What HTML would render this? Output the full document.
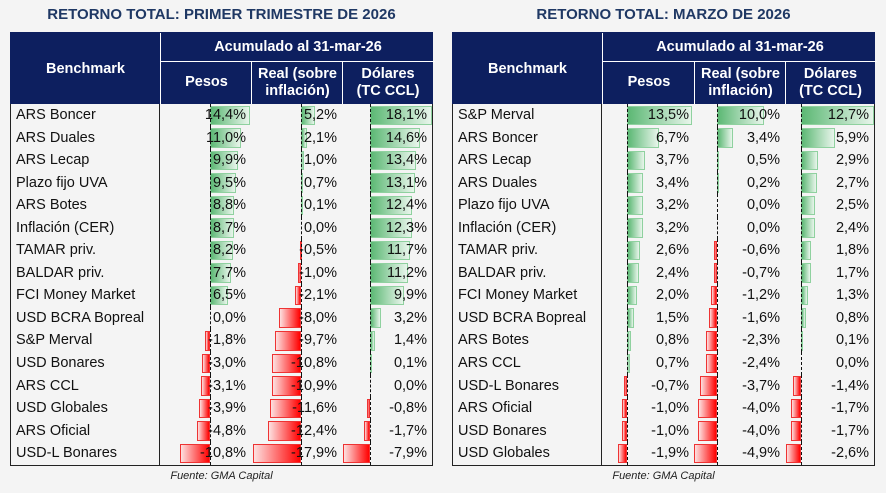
<!DOCTYPE html>
<html><head><meta charset="utf-8"><style>
body{margin:0;width:886px;height:493px;background:#f4f4f4;font-family:"Liberation Sans",sans-serif;position:relative;overflow:hidden}
.title{position:absolute;top:6px;font-weight:bold;font-size:15px;color:#1f3864;text-align:center}
.t{position:absolute;top:32px;width:423px}
.h{position:relative;height:72px;background:#0d1f5f;color:#fff;font-weight:bold;font-size:14.5px;border:1px solid #0d1f5f;box-sizing:border-box}
.h div{position:absolute;text-align:center;display:flex;align-items:center;justify-content:center;line-height:17px}
.b{border-left:1px solid #222;border-right:1px solid #222;border-bottom:1px solid #222;background:#f4f4f4}
.r{display:flex;height:22.56px;font-size:14.5px}
.c{position:relative;box-sizing:border-box;text-align:right;padding-right:5px;line-height:22.56px}
.c0{text-align:left;padding-left:5px;border-right:1px solid #222;color:#111}
.c::after{content:"";position:absolute;top:0;bottom:0;left:var(--a);border-left:1px dashed #111}
.c0::after{display:none}
.c span{position:relative;z-index:1;color:#111}
.c i{position:absolute;top:1.5px;bottom:1.5px;box-sizing:border-box;left:calc(var(--a) + min(var(--v),0) * var(--s) * 1px);width:calc(max(var(--v),calc(-1 * var(--v))) * var(--s) * 1px);background:linear-gradient(to right,#5cb874,#e8f5eb);border:1px solid #8fd19f}
.c i.n{background:linear-gradient(to left,#ff0000,#fde0e0);border:1px solid #e33}
.L .c0{width:149px}.L .c1{width:91px;--a:50px;--s:2.78}.L .c2{width:91px;--a:50px;--s:2.7}.L .c3{width:90px;--a:28px;--s:3.4}
.R .c0{width:149px}.R .c1{width:92px;--a:25px;--s:4.85}.R .c2{width:91px;--a:23px;--s:4.7}.R .c3{width:89px;--a:16px;--s:5.75}
.src{position:absolute;top:470px;font-size:11px;font-style:italic;color:#222;text-align:center}
</style></head><body>
<div class="title" style="left:10px;width:423px">RETORNO TOTAL: PRIMER TRIMESTRE DE 2026</div>
<div class="title" style="left:452px;width:423px">RETORNO TOTAL: MARZO DE 2026</div>

<div class="t L" style="left:10px">
<div class="h">
<div style="left:0;top:0;width:149px;height:72px">Benchmark</div>
<div style="left:149px;top:0;width:274px;height:28px;border-left:1px solid #fff;border-bottom:1px solid #fff">Acumulado al 31-mar-26</div>
<div style="left:149px;top:28px;width:91px;height:43px;border-left:1px solid #fff">Pesos</div>
<div style="left:240px;top:28px;width:91px;height:43px;border-left:1px solid #fff">Real (sobre<br>inflación)</div>
<div style="left:331px;top:28px;width:90px;height:43px;border-left:1px solid #fff">Dólares<br>(TC CCL)</div>
</div>
<div class="b">
<div class="r"><div class="c c0">ARS Boncer</div><div class="c c1" style="--v:14.4"><i></i><span>14,4%</span></div><div class="c c2" style="--v:5.2"><i></i><span>5,2%</span></div><div class="c c3" style="--v:18.1"><i></i><span>18,1%</span></div></div>
<div class="r"><div class="c c0">ARS Duales</div><div class="c c1" style="--v:11"><i></i><span>11,0%</span></div><div class="c c2" style="--v:2.1"><i></i><span>2,1%</span></div><div class="c c3" style="--v:14.6"><i></i><span>14,6%</span></div></div>
<div class="r"><div class="c c0">ARS Lecap</div><div class="c c1" style="--v:9.9"><i></i><span>9,9%</span></div><div class="c c2" style="--v:1"><i></i><span>1,0%</span></div><div class="c c3" style="--v:13.4"><i></i><span>13,4%</span></div></div>
<div class="r"><div class="c c0">Plazo fijo UVA</div><div class="c c1" style="--v:9.5"><i></i><span>9,5%</span></div><div class="c c2" style="--v:0.7"><i></i><span>0,7%</span></div><div class="c c3" style="--v:13.1"><i></i><span>13,1%</span></div></div>
<div class="r"><div class="c c0">ARS Botes</div><div class="c c1" style="--v:8.8"><i></i><span>8,8%</span></div><div class="c c2" style="--v:0.1"><i></i><span>0,1%</span></div><div class="c c3" style="--v:12.4"><i></i><span>12,4%</span></div></div>
<div class="r"><div class="c c0">Inflación (CER)</div><div class="c c1" style="--v:8.7"><i></i><span>8,7%</span></div><div class="c c2" style="--v:0"><span>0,0%</span></div><div class="c c3" style="--v:12.3"><i></i><span>12,3%</span></div></div>
<div class="r"><div class="c c0">TAMAR priv.</div><div class="c c1" style="--v:8.2"><i></i><span>8,2%</span></div><div class="c c2" style="--v:-0.5"><i class="n"></i><span>-0,5%</span></div><div class="c c3" style="--v:11.7"><i></i><span>11,7%</span></div></div>
<div class="r"><div class="c c0">BALDAR priv.</div><div class="c c1" style="--v:7.7"><i></i><span>7,7%</span></div><div class="c c2" style="--v:-1"><i class="n"></i><span>-1,0%</span></div><div class="c c3" style="--v:11.2"><i></i><span>11,2%</span></div></div>
<div class="r"><div class="c c0">FCI Money Market</div><div class="c c1" style="--v:6.5"><i></i><span>6,5%</span></div><div class="c c2" style="--v:-2.1"><i class="n"></i><span>-2,1%</span></div><div class="c c3" style="--v:9.9"><i></i><span>9,9%</span></div></div>
<div class="r"><div class="c c0">USD BCRA Bopreal</div><div class="c c1" style="--v:0"><span>0,0%</span></div><div class="c c2" style="--v:-8"><i class="n"></i><span>-8,0%</span></div><div class="c c3" style="--v:3.2"><i></i><span>3,2%</span></div></div>
<div class="r"><div class="c c0">S&amp;P Merval</div><div class="c c1" style="--v:-1.8"><i class="n"></i><span>-1,8%</span></div><div class="c c2" style="--v:-9.7"><i class="n"></i><span>-9,7%</span></div><div class="c c3" style="--v:1.4"><i></i><span>1,4%</span></div></div>
<div class="r"><div class="c c0">USD Bonares</div><div class="c c1" style="--v:-3"><i class="n"></i><span>-3,0%</span></div><div class="c c2" style="--v:-10.8"><i class="n"></i><span>-10,8%</span></div><div class="c c3" style="--v:0.1"><i></i><span>0,1%</span></div></div>
<div class="r"><div class="c c0">ARS CCL</div><div class="c c1" style="--v:-3.1"><i class="n"></i><span>-3,1%</span></div><div class="c c2" style="--v:-10.9"><i class="n"></i><span>-10,9%</span></div><div class="c c3" style="--v:0"><span>0,0%</span></div></div>
<div class="r"><div class="c c0">USD Globales</div><div class="c c1" style="--v:-3.9"><i class="n"></i><span>-3,9%</span></div><div class="c c2" style="--v:-11.6"><i class="n"></i><span>-11,6%</span></div><div class="c c3" style="--v:-0.8"><i class="n"></i><span>-0,8%</span></div></div>
<div class="r"><div class="c c0">ARS Oficial</div><div class="c c1" style="--v:-4.8"><i class="n"></i><span>-4,8%</span></div><div class="c c2" style="--v:-12.4"><i class="n"></i><span>-12,4%</span></div><div class="c c3" style="--v:-1.7"><i class="n"></i><span>-1,7%</span></div></div>
<div class="r"><div class="c c0">USD-L Bonares</div><div class="c c1" style="--v:-10.8"><i class="n"></i><span>-10,8%</span></div><div class="c c2" style="--v:-17.9"><i class="n"></i><span>-17,9%</span></div><div class="c c3" style="--v:-7.9"><i class="n"></i><span>-7,9%</span></div></div>
</div></div>

<div class="t R" style="left:452px">
<div class="h">
<div style="left:0;top:0;width:149px;height:72px">Benchmark</div>
<div style="left:149px;top:0;width:274px;height:28px;border-left:1px solid #fff;border-bottom:1px solid #fff">Acumulado al 31-mar-26</div>
<div style="left:149px;top:28px;width:92px;height:43px;border-left:1px solid #fff">Pesos</div>
<div style="left:241px;top:28px;width:91px;height:43px;border-left:1px solid #fff">Real (sobre<br>inflación)</div>
<div style="left:332px;top:28px;width:89px;height:43px;border-left:1px solid #fff">Dólares<br>(TC CCL)</div>
</div>
<div class="b">
<div class="r"><div class="c c0">S&amp;P Merval</div><div class="c c1" style="--v:13.5"><i></i><span>13,5%</span></div><div class="c c2" style="--v:10"><i></i><span>10,0%</span></div><div class="c c3" style="--v:12.7"><i></i><span>12,7%</span></div></div>
<div class="r"><div class="c c0">ARS Boncer</div><div class="c c1" style="--v:6.7"><i></i><span>6,7%</span></div><div class="c c2" style="--v:3.4"><i></i><span>3,4%</span></div><div class="c c3" style="--v:5.9"><i></i><span>5,9%</span></div></div>
<div class="r"><div class="c c0">ARS Lecap</div><div class="c c1" style="--v:3.7"><i></i><span>3,7%</span></div><div class="c c2" style="--v:0.5"><i></i><span>0,5%</span></div><div class="c c3" style="--v:2.9"><i></i><span>2,9%</span></div></div>
<div class="r"><div class="c c0">ARS Duales</div><div class="c c1" style="--v:3.4"><i></i><span>3,4%</span></div><div class="c c2" style="--v:0.2"><i></i><span>0,2%</span></div><div class="c c3" style="--v:2.7"><i></i><span>2,7%</span></div></div>
<div class="r"><div class="c c0">Plazo fijo UVA</div><div class="c c1" style="--v:3.2"><i></i><span>3,2%</span></div><div class="c c2" style="--v:0"><span>0,0%</span></div><div class="c c3" style="--v:2.5"><i></i><span>2,5%</span></div></div>
<div class="r"><div class="c c0">Inflación (CER)</div><div class="c c1" style="--v:3.2"><i></i><span>3,2%</span></div><div class="c c2" style="--v:0"><span>0,0%</span></div><div class="c c3" style="--v:2.4"><i></i><span>2,4%</span></div></div>
<div class="r"><div class="c c0">TAMAR priv.</div><div class="c c1" style="--v:2.6"><i></i><span>2,6%</span></div><div class="c c2" style="--v:-0.6"><i class="n"></i><span>-0,6%</span></div><div class="c c3" style="--v:1.8"><i></i><span>1,8%</span></div></div>
<div class="r"><div class="c c0">BALDAR priv.</div><div class="c c1" style="--v:2.4"><i></i><span>2,4%</span></div><div class="c c2" style="--v:-0.7"><i class="n"></i><span>-0,7%</span></div><div class="c c3" style="--v:1.7"><i></i><span>1,7%</span></div></div>
<div class="r"><div class="c c0">FCI Money Market</div><div class="c c1" style="--v:2"><i></i><span>2,0%</span></div><div class="c c2" style="--v:-1.2"><i class="n"></i><span>-1,2%</span></div><div class="c c3" style="--v:1.3"><i></i><span>1,3%</span></div></div>
<div class="r"><div class="c c0">USD BCRA Bopreal</div><div class="c c1" style="--v:1.5"><i></i><span>1,5%</span></div><div class="c c2" style="--v:-1.6"><i class="n"></i><span>-1,6%</span></div><div class="c c3" style="--v:0.8"><i></i><span>0,8%</span></div></div>
<div class="r"><div class="c c0">ARS Botes</div><div class="c c1" style="--v:0.8"><i></i><span>0,8%</span></div><div class="c c2" style="--v:-2.3"><i class="n"></i><span>-2,3%</span></div><div class="c c3" style="--v:0.1"><i></i><span>0,1%</span></div></div>
<div class="r"><div class="c c0">ARS CCL</div><div class="c c1" style="--v:0.7"><i></i><span>0,7%</span></div><div class="c c2" style="--v:-2.4"><i class="n"></i><span>-2,4%</span></div><div class="c c3" style="--v:0"><span>0,0%</span></div></div>
<div class="r"><div class="c c0">USD-L Bonares</div><div class="c c1" style="--v:-0.7"><i class="n"></i><span>-0,7%</span></div><div class="c c2" style="--v:-3.7"><i class="n"></i><span>-3,7%</span></div><div class="c c3" style="--v:-1.4"><i class="n"></i><span>-1,4%</span></div></div>
<div class="r"><div class="c c0">ARS Oficial</div><div class="c c1" style="--v:-1"><i class="n"></i><span>-1,0%</span></div><div class="c c2" style="--v:-4"><i class="n"></i><span>-4,0%</span></div><div class="c c3" style="--v:-1.7"><i class="n"></i><span>-1,7%</span></div></div>
<div class="r"><div class="c c0">USD Bonares</div><div class="c c1" style="--v:-1"><i class="n"></i><span>-1,0%</span></div><div class="c c2" style="--v:-4"><i class="n"></i><span>-4,0%</span></div><div class="c c3" style="--v:-1.7"><i class="n"></i><span>-1,7%</span></div></div>
<div class="r"><div class="c c0">USD Globales</div><div class="c c1" style="--v:-1.9"><i class="n"></i><span>-1,9%</span></div><div class="c c2" style="--v:-4.9"><i class="n"></i><span>-4,9%</span></div><div class="c c3" style="--v:-2.6"><i class="n"></i><span>-2,6%</span></div></div>
</div></div>

<div class="src" style="left:10px;width:423px">Fuente: GMA Capital</div>
<div class="src" style="left:452px;width:423px">Fuente: GMA Capital</div>
</body></html>
